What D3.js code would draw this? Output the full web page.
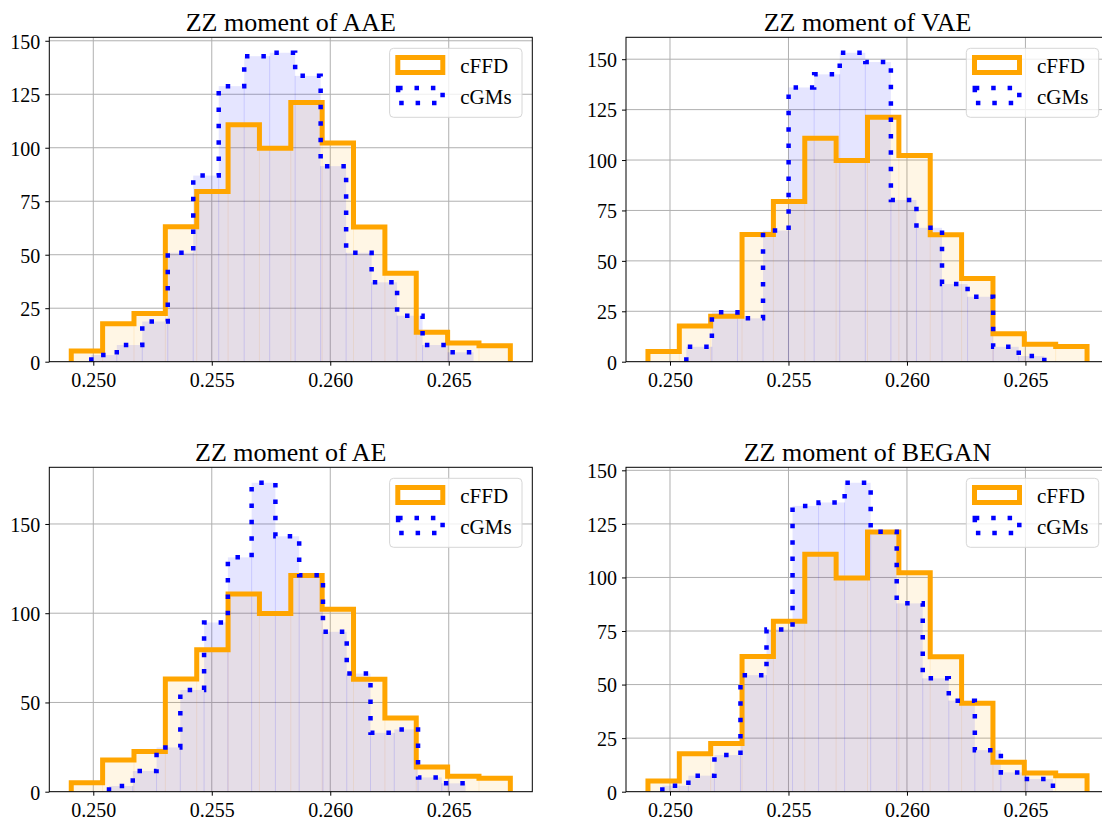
<!DOCTYPE html>
<html><head><meta charset="utf-8">
<script src="https://cdn.jsdelivr.net/npm/d3@7"></script>
<style>
body{margin:0;background:#fff}
svg{display:block}
text{font-family:"Liberation Serif","Times New Roman",serif;fill:#000}
</style>
</head><body>
<svg id="chart" width="1102" height="820"></svg>
<script>
// ---------- data ----------
const titles = ["ZZ moment of AAE", "ZZ moment of VAE", "ZZ moment of AE", "ZZ moment of BEGAN"];
const seriesNames = ["cFFD", "cGMs"];
const xTicks = [0.250, 0.255, 0.260, 0.265];
const yTicksAAE = [0, 25, 50, 75, 100, 125, 150];
const yTicksVAE = [0, 25, 50, 75, 100, 125, 150];
const yTicksAE = [0, 50, 100, 150];
const yTicksBEGAN = [0, 25, 50, 75, 100, 125, 150];

// reference histogram (same in every panel): bin range and bin heights
const cffdRange = [0.24907, 0.26760];
const cffdValues = [5.0, 17.7, 22.5, 63.1, 79.5, 110.8, 99.8, 121.2, 102.2, 63.0, 41.3, 13.8, 8.7, 7.5];

// generated histograms: bin range and bin heights per model
const cgmsRangeAAE = [0.249916, 0.266047];
const cgmsAAE = [3.1, 7.8, 18.8, 50.9, 87.0, 128.8, 142.8, 144.4, 133.6, 91.4, 50.9, 37.1, 21.5, 7.8, 4.4];
const cgmsRangeVAE = [0.250689, 0.265796];
const cgmsVAE = [7.4, 24.5, 21.5, 65.0, 136.0, 142.5, 153.2, 148.6, 80.2, 66.4, 38.5, 32.2, 7.4, 2.8];
const cgmsRangeAE = [0.250663, 0.265711];
const cgmsAE = [3.2, 11.6, 24.8, 57.0, 94.8, 131.3, 173.1, 143.1, 121.3, 89.6, 66.2, 33.0, 34.9, 8.0, 4.7];
const cgmsRangeBEGAN = [0.249677, 0.266161];
const cgmsBEGAN = [2.8, 7.5, 17.1, 54.4, 75.7, 133.4, 135.0, 144.2, 121.3, 87.9, 52.9, 42.5, 19.4, 9.0, 5.9];

const panels = [
  {title: titles[0], yTicks: yTicksAAE, range: cgmsRangeAAE, values: cgmsAAE},
  {title: titles[1], yTicks: yTicksVAE, range: cgmsRangeVAE, values: cgmsVAE},
  {title: titles[2], yTicks: yTicksAE, range: cgmsRangeAE, values: cgmsAE},
  {title: titles[3], yTicks: yTicksBEGAN, range: cgmsRangeBEGAN, values: cgmsBEGAN}
];

// ---------- layout ----------
const lefts = [49.3, 626.0];
const tops = [37.3, 467.3];
const axW = 483, axH = 324.4;
const ORANGE = "#FFA500", BLUE = "#0000FF";

const svg = d3.select("#chart");

function binsOf(range, values) {
  const n = values.length;
  const w = (range[1] - range[0]) / n;
  return values.map((v, i) => ({x0: range[0] + i * w, x1: range[0] + (i + 1) * w, v}));
}

panels.forEach((p, idx) => {
  const L = lefts[idx % 2], T = tops[Math.floor(idx / 2)];
  const R = L + axW, B = T + axH;
  const g = svg.append("g");

  const fBins = binsOf(cffdRange, cffdValues);
  const gBins = binsOf(p.range, p.values);

  const xmin = Math.min(cffdRange[0], p.range[0]);
  const xmax = Math.max(cffdRange[1], p.range[1]);
  const mx = (xmax - xmin) * 0.05;
  const x = d3.scaleLinear().domain([xmin - mx, xmax + mx]).range([L, R]);
  const ymax = Math.max(d3.max(cffdValues), d3.max(p.values)) * 1.05;
  const y = d3.scaleLinear().domain([0, ymax]).range([B, T]);

  // clip
  const clipId = "clip" + idx;
  svg.append("clipPath").attr("id", clipId).append("rect")
    .attr("x", L).attr("y", T).attr("width", axW).attr("height", axH);
  const plot = g.append("g").attr("clip-path", `url(#${clipId})`);

  // grid
  plot.selectAll(".gx").data(xTicks).join("line")
    .attr("x1", d => x(d)).attr("x2", d => x(d)).attr("y1", T).attr("y2", B)
    .attr("stroke", "#b0b0b0").attr("stroke-width", 1);
  plot.selectAll(".gy").data(p.yTicks).join("line")
    .attr("x1", L).attr("x2", R).attr("y1", d => y(d)).attr("y2", d => y(d))
    .attr("stroke", "#b0b0b0").attr("stroke-width", 1);

  // fills
  function fills(bins, color) {
    plot.append("g").selectAll("rect").data(bins).join("rect")
      .attr("x", d => x(d.x0)).attr("width", d => x(d.x1) - x(d.x0))
      .attr("y", d => y(d.v)).attr("height", d => y(0) - y(d.v))
      .attr("fill", color).attr("fill-opacity", 0.1);
    const seams = bins.slice(1).map((d, i) => ({x: d.x0, h: Math.min(d.v, bins[i].v)}));
    plot.append("g").selectAll("line").data(seams).join("line")
      .attr("x1", d => x(d.x)).attr("x2", d => x(d.x))
      .attr("y1", y(0)).attr("y2", d => y(d.h))
      .attr("stroke", color).attr("stroke-opacity", 0.13).attr("stroke-width", 1);
  }
  fills(fBins, ORANGE);
  fills(gBins, BLUE);

  // step outlines
  function stepPts(bins) {
    const pts = [[bins[0].x0, 0]];
    bins.forEach(b => { pts.push([b.x0, b.v]); pts.push([b.x1, b.v]); });
    pts.push([bins[bins.length - 1].x1, 0]);
    return pts;
  }
  const line = d3.line().x(d => x(d[0])).y(d => y(d[1]));
  plot.append("path").attr("d", line(stepPts(fBins)))
    .attr("fill", "none").attr("stroke", ORANGE).attr("stroke-width", 5)
    .attr("stroke-linejoin", "miter");
  plot.append("path").attr("d", line(stepPts(gBins)))
    .attr("fill", "none").attr("stroke", BLUE).attr("stroke-width", 4.5)
    .attr("stroke-dasharray", "4.5 11.9").attr("stroke-linejoin", "miter");

  // axes
  const xAxis = d3.axisBottom(x).tickValues(xTicks).tickFormat(d3.format(".3f")).tickSize(4).tickPadding(6);
  const gx = g.append("g").attr("transform", `translate(0,${B})`).call(xAxis);
  const yAxis = d3.axisLeft(y).tickValues(p.yTicks).tickFormat(d3.format("d")).tickSize(4).tickPadding(5);
  const gy = g.append("g").attr("transform", `translate(${L},0)`).call(yAxis);
  [gx, gy].forEach(a => {
    a.select(".domain").remove();
    a.selectAll(".tick line").attr("stroke", "#000").attr("stroke-width", 1);
    a.selectAll(".tick text").attr("font-family", '"Liberation Serif",serif')
      .attr("font-size", 20).attr("fill", "#000");
  });
  gx.selectAll(".tick text").attr("dy", null).attr("y", 25);
  gy.selectAll(".tick text").attr("dy", null).attr("y", 7.3);

  // spines
  g.append("rect").attr("x", L).attr("y", T).attr("width", axW).attr("height", axH)
    .attr("fill", "none").attr("stroke", "#000").attr("stroke-width", 1);

  // legend
  const lgW = 132.4, lgH = 69;
  const lx = R - 10.3 - lgW, ly = T + 11;
  const lg = g.append("g").attr("transform", `translate(${lx},${ly})`);
  lg.append("rect").attr("width", lgW).attr("height", lgH).attr("rx", 4)
    .attr("fill", "#fff").attr("fill-opacity", 0.8).attr("stroke", "#d6d6d6").attr("stroke-width", 1);
  lg.append("rect").attr("x", 8.2).attr("y", 9.2).attr("width", 45).attr("height", 15)
    .attr("fill", "none").attr("stroke", ORANGE).attr("stroke-width", 5);
  lg.append("rect").attr("x", 8.5).attr("y", 39.8).attr("width", 44.5).attr("height", 15)
    .attr("fill", "none").attr("stroke", BLUE).attr("stroke-width", 4.5)
    .attr("stroke-dasharray", "4.5 11.9");
  lg.selectAll("text.lt").data(seriesNames).join("text")
    .attr("x", 70.7).attr("y", (d, i) => 25 + i * 30.5)
    .attr("font-size", 21).text(d => d);

  // title
  g.append("text").attr("x", (L + R) / 2).attr("y", T - 6.6)
    .attr("text-anchor", "middle").attr("font-size", 26).text(p.title);
});
</script>
</body></html>
